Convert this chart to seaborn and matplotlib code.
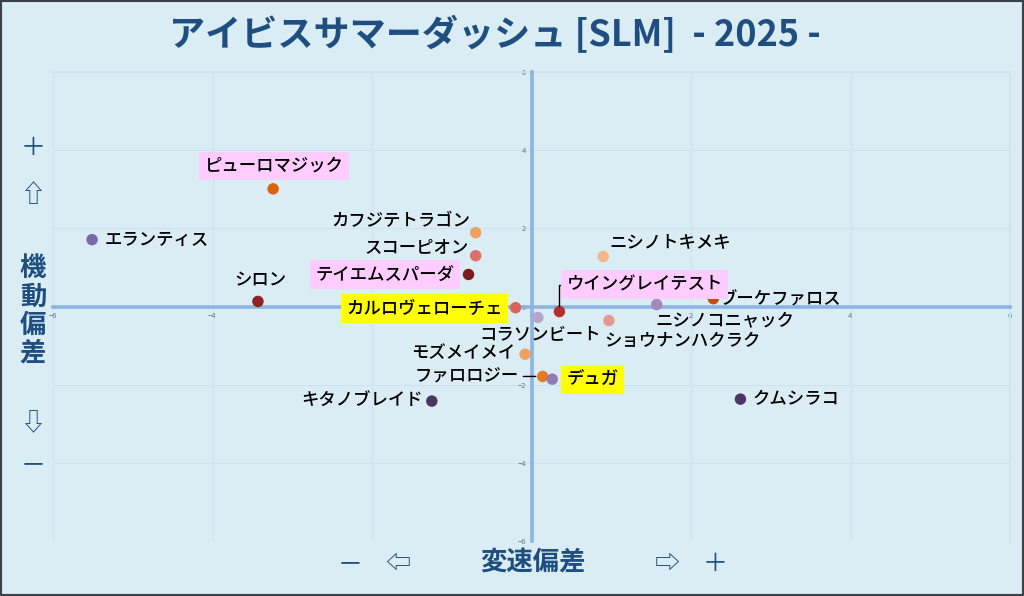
import pandas as pd
import matplotlib.pyplot as plt
import seaborn as sns
from matplotlib.patches import Rectangle

# === Data ===
horses = ["エランティス", "ピューロマジック", "シロン", "カフジテトラゴン", "スコーピオン",
          "テイエムスパーダ", "カルロヴェローチェ", "コラソンビート", "ウイングレイテスト",
          "ニシノトキメキ", "ニシノコニャック", "ショウナンハクラク", "ブーケファロス",
          "モズメイメイ", "ファロロジー", "デュガ", "キタノブレイド", "クムシラコ"]
speed_dev = [-5.51, -3.24, -3.43, -0.70, -0.70, -0.79, -0.20, 0.08, 0.35,
             0.90, 1.57, 0.97, 2.28, -0.08, 0.14, 0.26, -1.25, 2.62]
mobility_dev = [1.71, 3.01, 0.13, 1.89, 1.30, 0.82, -0.03, -0.28, -0.13,
                1.28, 0.05, -0.36, 0.20, -1.22, -1.79, -1.86, -2.42, -2.37]
dot_colors = ["#7b68a6", "#d9650f", "#8e2323", "#f0a060", "#d9706a", "#7f1b1b",
              "#d8645a", "#b7a6cc", "#b52d2d", "#f2b88a", "#a488c0", "#e49a94",
              "#c2500f", "#f0a060", "#e57a1e", "#8f7cb8", "#4a3560", "#4a3565"]
pink_names = ["ピューロマジック", "テイエムスパーダ", "ウイングレイテスト"]
yellow_names = ["カルロヴェローチェ", "デュガ"]
ticks = [-6, -4, -2, 0, 2, 4, 6]

df = pd.DataFrame({"name": horses, "x": speed_dev, "y": mobility_dev})

# label placement: offset in px from the dot, horizontal alignment
label_pos = {
    "エランティス": (13, 0, "left"),
    "ピューロマジック": (1, 23, "center"),
    "シロン": (2, 21, "center"),
    "カフジテトラゴン": (-5, 12, "right"),
    "スコーピオン": (-7, 9, "right"),
    "テイエムスパーダ": (-14, 0, "right"),
    "カルロヴェローチェ": (-13, -1, "right"),
    "コラソンビート": (2, -18, "center"),
    "ニシノトキメキ": (6, 14, "left"),
    "ニシノコニャック": (-1, -16, "left"),
    "ショウナンハクラク": (-5, -20, "left"),
    "ブーケファロス": (7, -1, "left"),
    "モズメイメイ": (-10, 1, "right"),
    "デュガ": (14, -1, "left"),
    "キタノブレイド": (-9, 0, "right"),
    "クムシラコ": (12, 0, "left"),
}

# === Style ===
bg = "#dbedf4"
navy = "#1f4e80"
sns.set_theme(style="white")
plt.rcParams["font.family"] = ["Noto Sans CJK JP", "DejaVu Sans"]

fig = plt.figure(figsize=(10.24, 5.96), dpi=100, facecolor=bg)
ax = fig.add_axes([53 / 1024, 1 - 541 / 596, 957 / 1024, 469 / 596], facecolor=bg)

sns.scatterplot(data=df, x="x", y="y", hue="name", palette=dict(zip(horses, dot_colors)),
                s=68, edgecolor="none", legend=False, ax=ax, zorder=5)

ax.set_xlim(-6, 6)
ax.set_ylim(-6, 6)
ax.set_xticks(ticks)
ax.set_yticks(ticks)
ax.grid(True, color="#cfe2ee", linewidth=0.8)
for side in ["top", "right"]:
    ax.spines[side].set_color("#cfe2ee")
for side in ["left", "bottom"]:
    ax.spines[side].set_position(("data", 0))
    ax.spines[side].set_color("#8db4e2")
    ax.spines[side].set_linewidth(2.6)
    ax.spines[side].set_zorder(3)
ax.tick_params(length=0, labelsize=5.5, labelcolor="#5b7a99", pad=4)
ax.set_xlabel("")
ax.set_ylabel("")

# === Labels ===
px = 0.72  # points per pixel
lab_font = dict(fontsize=12.5, color="black", fontweight="medium")
for name, x, y in zip(horses, speed_dev, mobility_dev):
    if name not in label_pos:
        continue
    dx, dy, ha = label_pos[name]
    box = None
    if name in pink_names:
        box = dict(boxstyle="square,pad=0.3", fc="#ffccff", ec="none")
    elif name in yellow_names:
        box = dict(boxstyle="square,pad=0.3", fc="#ffff00", ec="none")
    ax.annotate(name, (x, y), xytext=(dx * px, dy * px), textcoords="offset points",
                ha=ha, va="center", bbox=box, zorder=6, **lab_font)

# leader lines
i = horses.index("ウイングレイテスト")
ax.annotate("ウイングレイテスト", (speed_dev[i], mobility_dev[i]), xytext=(7 * px, 27 * px),
            textcoords="offset points", ha="left", va="center",
            bbox=dict(boxstyle="square,pad=0.3", fc="#ffccff", ec="none"),
            arrowprops=dict(arrowstyle="-", color="black", lw=1,
                            connectionstyle="angle,angleA=0,angleB=90,rad=0",
                            shrinkA=0, shrinkB=4), zorder=6, **lab_font)
i = horses.index("ファロロジー")
ax.annotate("ファロロジー", (speed_dev[i], mobility_dev[i]), xytext=(-24 * px, 0),
            textcoords="offset points", ha="right", va="center",
            arrowprops=dict(arrowstyle="-", color="black", lw=1, shrinkA=1, shrinkB=5),
            zorder=6, **lab_font)

# === Titles and axis captions ===
fig.text(495 / 1024, 1 - 35 / 596, "アイビスサマーダッシュ [SLM]  - 2025 -", ha="center",
         va="center", fontsize=26, fontweight="bold", color=navy)
for ch, yy in [("＋", 148), ("⇧", 195), ("⇩", 424), ("－", 465)]:
    fig.text(33 / 1024, 1 - yy / 596, ch, ha="center", va="center", fontsize=18, color=navy)
fig.text(33 / 1024, 1 - 311 / 596, "機\n動\n偏\n差", ha="center", va="center", fontsize=19,
         fontweight="bold", color=navy, linespacing=1.05)
for ch, xx in [("－", 350), ("⇦", 398), ("⇨", 667), ("＋", 715)]:
    fig.text(xx / 1024, 1 - 564 / 596, ch, ha="center", va="center", fontsize=18, color=navy)
fig.text(533 / 1024, 1 - 563 / 596, "変速偏差", ha="center", va="center", fontsize=19,
         fontweight="bold", color=navy)

fig.patches.append(Rectangle((0, 0), 1, 1, transform=fig.transFigure, fill=False,
                             ec="#3c4147", lw=3))

fig.savefig("out.png", dpi=100, facecolor=bg)
